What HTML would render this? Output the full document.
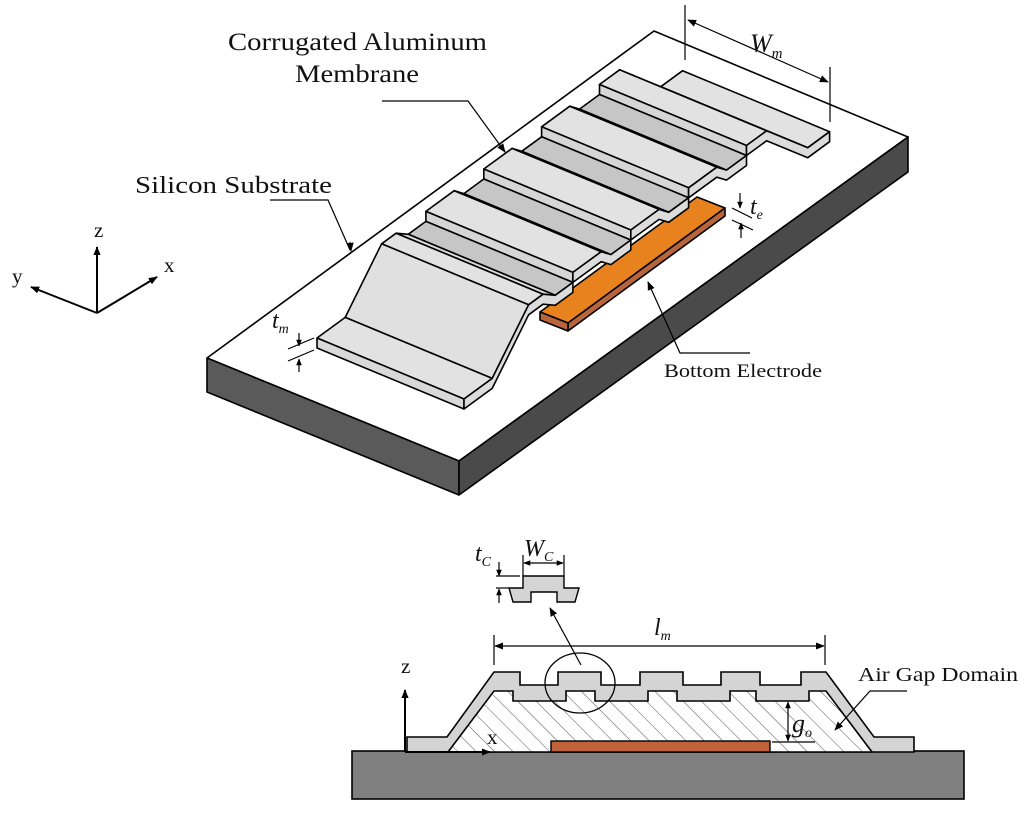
<!DOCTYPE html>
<html><head><meta charset="utf-8"><style>
html,body{margin:0;padding:0;background:#fff;}
svg{display:block;}
text{font-family:"Liberation Serif",serif;fill:#111;}
</style></head><body>
<svg width="1024" height="832" viewBox="0 0 1024 832" xmlns="http://www.w3.org/2000/svg">
<defs>
<marker id="ah" viewBox="0 0 10 10" refX="9" refY="5" markerWidth="9" markerHeight="9" orient="auto-start-reverse" markerUnits="userSpaceOnUse"><path d="M0,1 L10,5 L0,9 Z" fill="#000"/></marker>
<marker id="ahs" viewBox="0 0 10 10" refX="9" refY="5" markerWidth="7" markerHeight="7" orient="auto-start-reverse" markerUnits="userSpaceOnUse"><path d="M0,1 L10,5 L0,9 Z" fill="#000"/></marker>
<pattern id="hatch" patternUnits="userSpaceOnUse" width="13" height="13" patternTransform="rotate(-45)">
<rect width="13" height="13" fill="#fff"/><line x1="0" y1="0" x2="0" y2="13" stroke="#555" stroke-width="1"/></pattern>
</defs>
<g stroke="#000" stroke-width="1.6" stroke-linejoin="round">
<polygon points="654,31 908,137 459,461 207,358" fill="#fff"/>
<polygon points="207,358 459,461 459,495 207,392" fill="#5a5a5a"/>
<polygon points="459,461 908,137 908,172 459,495" fill="#4a4a4a"/>
<polygon points="540,312 697,197 725,208 568,323" fill="#e8821e"/>
<polygon points="568,323 725,208 725,216 568,331" fill="#b8653c"/>
<polygon points="540,312 568,323 568,331 540,320" fill="#b8653c"/>
<polygon points="660.8,86.7 682.6,70.7 829.6,131.7 807.8,147.7" fill="#e2e2e2"/>
<polygon points="619.6,69.8 660.8,86.7 807.8,147.7 766.6,130.8" fill="#e2e2e2"/>
<polygon points="599.5,84.5 619.6,69.8 766.6,130.8 746.5,145.5" fill="#e2e2e2"/>
<polygon points="599.5,94.5 599.5,84.5 746.5,145.5 746.5,155.5" fill="#d6d6d6"/>
<polygon points="579.5,109.1 599.5,94.5 746.5,155.5 726.5,170.1" fill="#c6c6c6"/>
<polygon points="569.8,106.2 579.5,109.1 726.5,170.1 716.8,167.2" fill="#dadada"/>
<polygon points="541.6,126.8 569.8,106.2 716.8,167.2 688.6,187.8" fill="#e2e2e2"/>
<polygon points="541.6,136.8 541.6,126.8 688.6,187.8 688.6,197.8" fill="#d6d6d6"/>
<polygon points="521.7,151.3 541.6,136.8 688.6,197.8 668.7,212.3" fill="#c6c6c6"/>
<polygon points="512.1,148.4 521.7,151.3 668.7,212.3 659.1,209.4" fill="#dadada"/>
<polygon points="483.8,169 512.1,148.4 659.1,209.4 630.8,230" fill="#e2e2e2"/>
<polygon points="483.8,179 483.8,169 630.8,230 630.8,240" fill="#d6d6d6"/>
<polygon points="463.9,193.6 483.8,179 630.8,240 610.9,254.6" fill="#c6c6c6"/>
<polygon points="454.2,190.7 463.9,193.6 610.9,254.6 601.2,251.7" fill="#dadada"/>
<polygon points="425.9,211.4 454.2,190.7 601.2,251.7 572.9,272.4" fill="#e2e2e2"/>
<polygon points="425.9,221.4 425.9,211.4 572.9,272.4 572.9,282.4" fill="#d6d6d6"/>
<polygon points="408.2,234.3 425.9,221.4 572.9,282.4 555.2,295.3" fill="#c6c6c6"/>
<polygon points="396.1,233.2 408.2,234.3 555.2,295.3 543.1,294.2" fill="#dadada"/>
<polygon points="381.6,243.8 396.1,233.2 543.1,294.2 528.6,304.8" fill="#e2e2e2"/>
<polygon points="345.2,317.4 381.6,243.8 528.6,304.8 492.2,378.4" fill="#e0e0e0"/>
<polygon points="317,338 345.2,317.4 492.2,378.4 464,399" fill="#e2e2e2"/>
<polygon points="317,338 464,399 464,409 317,348" fill="#d9d9d9"/>
<polygon points="464,399 492.2,378.4 528.6,304.8 543.1,294.2 555.2,295.3 572.9,282.4 572.9,272.4 601.2,251.7 610.9,254.6 630.8,240 630.8,230 659.1,209.4 668.7,212.3 688.6,197.8 688.6,187.8 716.8,167.2 726.5,170.1 746.5,155.5 746.5,145.5 766.6,130.8 807.8,147.7 829.6,131.7 829.6,141.7 807.8,157.7 766.6,140.8 746.5,155.5 746.5,165.5 726.5,180.1 716.8,177.2 688.6,197.8 688.6,207.8 668.7,222.3 659.1,219.4 630.8,240 630.8,250 610.9,264.6 601.2,261.7 572.9,282.4 572.9,292.4 555.2,305.3 543.1,304.2 528.6,314.8 492.2,388.4 464,409" fill="#dcdcdc"/>
</g>
<g stroke="#000" stroke-width="1.2" fill="none">
<line x1="685" y1="5" x2="685" y2="60"/>
<line x1="830" y1="67" x2="830" y2="122"/>
<line x1="688" y1="20" x2="828" y2="82" marker-start="url(#ah)" marker-end="url(#ah)"/>
<line x1="732" y1="208" x2="752" y2="218"/>
<line x1="732" y1="220" x2="753" y2="230"/>
<line x1="740" y1="193" x2="740" y2="208" marker-end="url(#ahs)"/>
<line x1="741" y1="238" x2="741" y2="223" marker-end="url(#ahs)"/>
<line x1="288" y1="349" x2="314" y2="338"/>
<line x1="288" y1="361" x2="314" y2="350"/>
<line x1="299" y1="333" x2="299" y2="346" marker-end="url(#ahs)"/>
<line x1="299" y1="372" x2="299" y2="359" marker-end="url(#ahs)"/>
<polyline points="270,200 328,200 350,250" />
<polyline points="382,101 468,101 505,152" />
<polyline points="750,353 680,353 648,282" />
<line x1="350" y1="242" x2="351" y2="251" marker-end="url(#ah)"/>
<line x1="500" y1="145" x2="505" y2="152" marker-end="url(#ah)"/>
<line x1="651" y1="289" x2="648" y2="282" marker-end="url(#ah)"/>
</g>
<g stroke="#000" stroke-width="2" fill="none">
<line x1="97" y1="313" x2="97" y2="247" marker-end="url(#ah)"/>
<line x1="97" y1="313" x2="31" y2="287" marker-end="url(#ah)"/>
<line x1="97" y1="313" x2="157" y2="277" marker-end="url(#ah)"/>
</g>
<text x="94" y="237" font-size="21">z</text>
<text x="12" y="283" font-size="21">y</text>
<text x="164" y="272" font-size="21">x</text>
<text x="228" y="50" font-size="25" textLength="259" lengthAdjust="spacingAndGlyphs">Corrugated Aluminum</text>
<text x="295" y="82" font-size="25" textLength="124" lengthAdjust="spacingAndGlyphs">Membrane</text>
<text x="135" y="193" font-size="24" textLength="197" lengthAdjust="spacingAndGlyphs">Silicon Substrate</text>
<text x="664" y="377" font-size="19" textLength="158" lengthAdjust="spacingAndGlyphs">Bottom Electrode</text>
<text x="750" y="52" font-size="26" font-style="italic">W<tspan font-size="15" dy="6">m</tspan></text>
<text x="750" y="214" font-size="24" font-style="italic">t<tspan font-size="14" dy="5">e</tspan></text>
<text x="272" y="328" font-size="24" font-style="italic">t<tspan font-size="14" dy="5">m</tspan></text>
<rect x="352" y="751" width="612" height="48" fill="#808080" stroke="#000" stroke-width="1.6"/>
<polygon points="407,752 407,737 447,737 494,672 520,672 520,685 558,685 558,672 601,672 601,685 640,685 640,672 683,672 683,685 721,685 721,672 760,672 760,685 801,685 801,672 826,672 874,737 914,737 914,752" fill="#d4d4d4" stroke="#000" stroke-width="1.6"/>
<polygon points="448,752 494,691 513,691 513,701 566,701 566,691 595,691 595,701 648,701 648,691 677,691 677,701 730,701 730,691 756,691 756,701 809,701 809,691 826,691 872,752" fill="url(#hatch)" stroke="#000" stroke-width="1.6"/>
<rect x="551" y="741" width="219" height="11" fill="#c0623a" stroke="#000" stroke-width="1.4"/>
<ellipse cx="580" cy="683" rx="35" ry="30" fill="none" stroke="#000" stroke-width="1.3"/>
<polygon points="523,576 564,576 564,588 579,588 575,602 557,602 557,592 531,592 531,602 513,602 509,588 523,588" fill="#d4d4d4" stroke="#000" stroke-width="1.4"/>
<g stroke="#000" stroke-width="1.2" fill="none">
<line x1="581" y1="665" x2="550" y2="608" marker-end="url(#ah)"/>
<line x1="494" y1="635" x2="494" y2="665"/>
<line x1="825" y1="635" x2="825" y2="665"/>
<line x1="495" y1="646" x2="824" y2="646" marker-start="url(#ah)" marker-end="url(#ah)"/>
<line x1="523" y1="555" x2="523" y2="576"/>
<line x1="564" y1="555" x2="564" y2="576"/>
<line x1="524" y1="563" x2="563" y2="563" marker-start="url(#ahs)" marker-end="url(#ahs)"/>
<line x1="496" y1="576" x2="520" y2="576"/>
<line x1="496" y1="588" x2="509" y2="588"/>
<line x1="499" y1="562" x2="499" y2="576" marker-end="url(#ahs)"/>
<line x1="499" y1="603" x2="499" y2="589" marker-end="url(#ahs)"/>
<line x1="788" y1="702" x2="788" y2="741" marker-start="url(#ahs)" marker-end="url(#ahs)"/>
<line x1="772" y1="742" x2="815" y2="742"/>
<polyline points="907,691 870,691 835,730" marker-end="url(#ah)"/>
</g>
<g stroke="#000" stroke-width="2" fill="none">
<line x1="405" y1="752" x2="405" y2="690" marker-end="url(#ah)"/>
<line x1="405" y1="752" x2="490" y2="752" marker-end="url(#ah)"/>
</g>
<text x="401" y="673" font-size="21">z</text>
<text x="487" y="744" font-size="21">x</text>
<text x="858" y="681" font-size="20" textLength="160" lengthAdjust="spacingAndGlyphs">Air Gap Domain</text>
<text x="654" y="635" font-size="24" font-style="italic">l<tspan font-size="14" dy="5">m</tspan></text>
<text x="524" y="556" font-size="24" font-style="italic">W<tspan font-size="14" dy="5">C</tspan></text>
<text x="475" y="561" font-size="24" font-style="italic">t<tspan font-size="14" dy="5">C</tspan></text>
<text x="792" y="732" font-size="26" font-style="italic">g<tspan font-size="14" dy="5">o</tspan></text>
</svg>
</body></html>
